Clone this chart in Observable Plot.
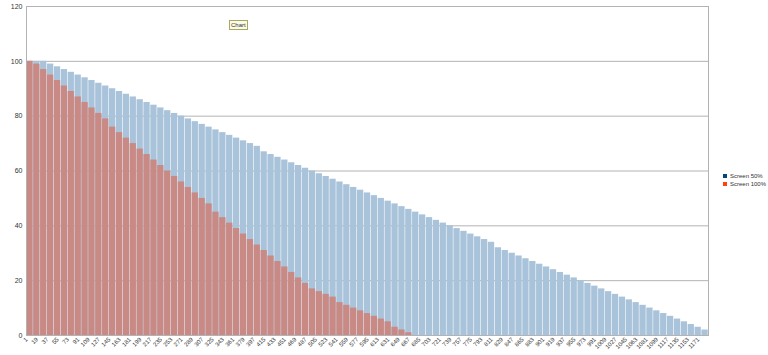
<!DOCTYPE html>
<html>
<head>
<meta charset="utf-8">
<script src="https://cdn.jsdelivr.net/npm/d3@7"></script>
<script src="https://cdn.jsdelivr.net/npm/@observablehq/plot@0.6"></script>
<style>
  body { margin: 0; background: #fff; font-family: "Liberation Sans", Arial, sans-serif; }
  #wrap { position: relative; width: 768px; height: 355px; overflow: hidden; }
  #title { position: absolute; left: 229px; top: 20px; font-size: 6px; line-height: 8px; padding: 0 1px;
           border: 1px solid #a8a860; background: #fbfbe6; color: #333; }
  #legend { position: absolute; left: 723px; top: 172px; font-size: 6px; line-height: 8px; color: #333; }
  #legend .item { display: flex; align-items: center; white-space: nowrap; }
  #legend .sw { width: 4px; height: 4px; margin-right: 3px; display: inline-block; }
</style>
</head>
<body>
<div id="wrap">
  <div id="title">Chart</div>
  <div id="legend"></div>
</div>
<script>
// categories per bar (groups of the 1..1188 x categories)
const groupStarts = d3.range(1, 1178, 12);
const groupSize = 12;

// Screen 50% (blue) value per group
const screen50 = [100,100,100,99,98,97,96,95,94,93,92,91,90,89,88,87,86,85,84,83,
  82,81,80,79,78,77,76,75,74,73,72,71,70,69,67,66,65,64,63,62,
  61,60,59,58,57,56,55,54,53,52,51,50,49,48,47,46,45,44,43,42,
  41,40,39,38,37,36,35,34,32,31,30,29,28,27,26,25,24,23,22,21,
  20,19,18,17,16,15,14,13,12,11,10,9,8,7,6,5,4,3,2];

// Screen 100% (red) value per group
const screen100 = [100,99,97,95,93,91,89,87,85,83,81,79,76,74,72,70,68,66,64,62,
  60,58,56,54,52,50,48,45,43,41,39,37,35,33,31,29,27,25,23,21,
  19,17,16,15,14,12,11,10,9,8,7,6,5,3,2,1];

const xTickLabels = d3.range(1, 1172, 18);
const yTicks = [0, 20, 40, 60, 80, 100, 120];
const seriesNames = ["Screen 50%", "Screen 100%"];
const seriesLegendColors = ["#004586", "#ff420e"];
const seriesBarColors = ["#a9c3da", "#c98a85"];

const rows50 = screen50.map((v, i) => ({start: groupStarts[i], value: v}));
const rows100 = screen100.map((v, i) => ({start: groupStarts[i], value: v}));

const chart = Plot.plot({
  width: 768,
  height: 355,
  marginLeft: 26,
  marginRight: 60,
  marginTop: 6,
  marginBottom: 20,
  style: {color: "#333", fontFamily: "Liberation Sans, Arial, sans-serif", background: "#fff"},
  x: {type: "linear", domain: [0.5, 1188.5]},
  y: {domain: [0, 120]},
  marks: [
    Plot.gridY(yTicks, {stroke: "#b3b3b3", strokeOpacity: 1}),
    Plot.rect(rows50, {x1: d => d.start - 0.5, x2: d => d.start + groupSize - 0.5, y1: 0, y2: "value",
      fill: seriesBarColors[0], insetLeft: 0.3, insetRight: 0.3}),
    Plot.rect(rows100, {x1: d => d.start - 0.5, x2: d => d.start + groupSize - 0.5, y1: 0, y2: "value",
      fill: seriesBarColors[1], insetLeft: 0.3, insetRight: 0.3}),
    Plot.frame({stroke: "#b3b3b3"}),
    Plot.axisY({ticks: yTicks, tickSize: 0, tickPadding: 4, fontSize: 7, label: null}),
    Plot.axisX({ticks: xTickLabels, tickFormat: d => String(d), tickRotate: -45, tickSize: 0,
      tickPadding: 3, fontSize: 6, label: null})
  ]
});
document.getElementById("wrap").prepend(chart);

const legend = document.getElementById("legend");
seriesNames.forEach((name, i) => {
  const item = document.createElement("div");
  item.className = "item";
  const sw = document.createElement("span");
  sw.className = "sw";
  sw.style.background = seriesLegendColors[i];
  item.appendChild(sw);
  item.appendChild(document.createTextNode(name));
  legend.appendChild(item);
});
</script>
</body>
</html>
